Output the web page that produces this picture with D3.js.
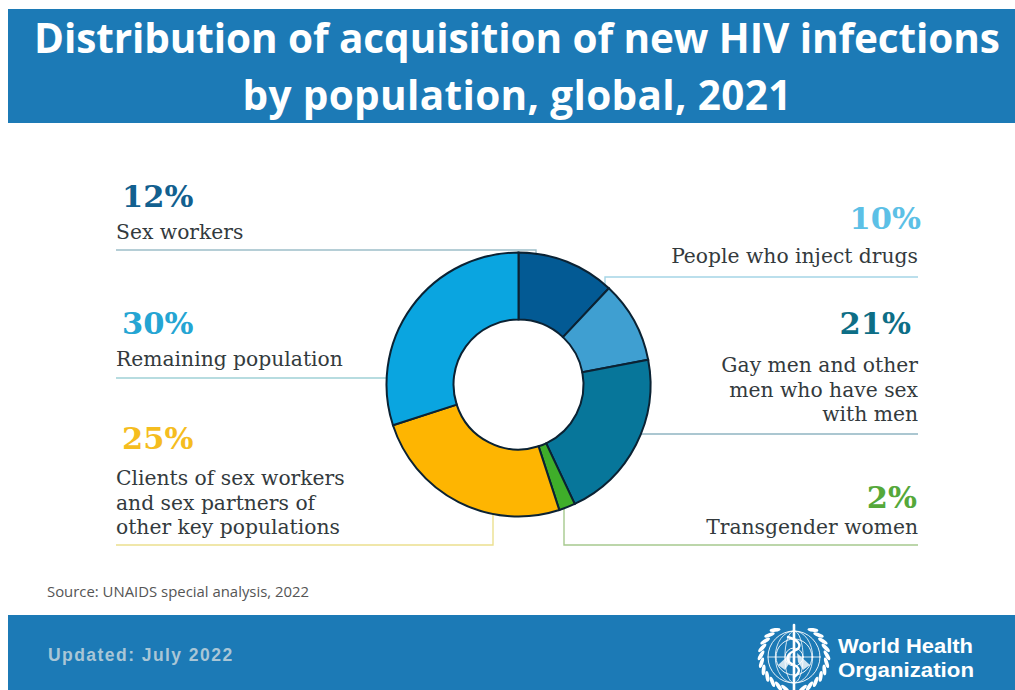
<!DOCTYPE html>
<html>
<head>
<meta charset="utf-8">
<script src="https://cdn.jsdelivr.net/npm/d3@7/dist/d3.min.js"></script>
<style>
html,body{margin:0;padding:0;background:#fff;overflow:hidden}
svg{display:block}
</style>
</head>
<body>
<svg id="chart" width="1015" height="690"></svg>
<script>
// Share of new HIV infections by population, clockwise from twelve o'clock
const populations = ["Sex workers","People who inject drugs","Gay men and other men who have sex with men","Transgender women","Clients of sex workers and sex partners of other key populations","Remaining population"];
const shares = [12, 10, 21, 2, 25, 30];
const sliceColours = ["#035a94","#3f9fd1","#07769a","#3fae2a","#feb501","#0aa5e0"];
const valueColours = ["#12608f","#5cc0e6","#0d6e86","#55a83a","#f5bd1f","#25a5d3"];
const leaderColours = ["#9dbfc9","#a5d5e6","#8fb4c2","#a6c98e","#ece08f","#9fd0d6"];
const labelLines = [["Sex workers"],["People who inject drugs"],["Gay men and other","men who have sex","with men"],["Transgender women"],["Clients of sex workers","and sex partners of","other key populations"],["Remaining population"]];

const titleLines = ["Distribution of acquisition of new HIV infections","by population, global, 2021"];
const sourceNote = "Source: UNAIDS special analysis, 2022";
const updatedNote = "Updated: July 2022";
const orgName = ["World Health","Organization"];

// Text block placement and leader routing for each slice
const placement = [
  {side:"left",  x:116, valueX:122, valueY:207, labelY:239, gap:0,  leader:[[116,250],[536,250],[536,256]]},
  {side:"right", x:918, valueX:921, valueY:229, labelY:263, gap:0,  leader:[[918,277],[605,277],[605,291]]},
  {side:"right", x:918, valueX:911, valueY:334, labelY:372, gap:24.5, leader:[[918,434],[640,434]]},
  {side:"right", x:918, valueX:917, valueY:508, labelY:534, gap:0,  leader:[[918,545],[564,545],[564,508]]},
  {side:"left",  x:116, valueX:122, valueY:449, labelY:485, gap:24.5, leader:[[116,545],[493,545],[493,512]]},
  {side:"left",  x:116, valueX:122, valueY:334, labelY:366, gap:0,  leader:[[116,378],[387,378]]}
];

const svg = d3.select("#chart");
const bandBlue = "#1c7ab6";

// Header and footer bands
svg.append("rect").attr("x",8).attr("y",9).attr("width",1007).attr("height",114).attr("fill",bandBlue);
svg.append("rect").attr("x",8).attr("y",615).attr("width",1007).attr("height",75).attr("fill",bandBlue);

svg.append("g").selectAll("text").data(titleLines).join("text")
  .attr("x",517).attr("y",(d,i)=>53+i*57)
  .attr("text-anchor","middle")
  .attr("font-family","'Open Sans',sans-serif").attr("font-weight",700)
  .attr("font-size",40.5).attr("fill","#fff")
  .attr("textLength",(d,i)=>i?549:966).attr("lengthAdjust","spacing")
  .text(d=>d);

// Leaders sit underneath the ring
const leaderPath = d3.line();
svg.append("g").attr("fill","none").selectAll("path").data(placement).join("path")
  .attr("d",d=>leaderPath(d.leader))
  .attr("stroke",(d,i)=>leaderColours[i]).attr("stroke-width",1.4);

// Donut
const pie = d3.pie().sort(null).value(d=>d);
const arc = d3.arc().innerRadius(65).outerRadius(132);
svg.append("g").attr("transform","translate(518.5,384.5)")
  .selectAll("path").data(pie(shares)).join("path")
  .attr("d",arc)
  .attr("fill",(d,i)=>sliceColours[i])
  .attr("stroke","#0b2233").attr("stroke-width",2)
  .append("title").text((d,i)=>populations[i]);

// Value and population labels
const labels = svg.append("g").selectAll("g").data(placement).join("g");
labels.append("text")
  .attr("x",d=>d.valueX).attr("y",d=>d.valueY)
  .attr("text-anchor",d=>d.side==="left"?"start":"end")
  .attr("font-family","'DejaVu Serif',serif").attr("font-weight",700).attr("font-size",30.5)
  .attr("fill",(d,i)=>valueColours[i])
  .text((d,i)=>shares[i]+"%");
labels.each(function(d,i){
  d3.select(this).selectAll("text.name").data(labelLines[i]).join("text")
    .attr("class","name")
    .attr("x",d.x).attr("y",(l,j)=>d.labelY+j*d.gap)
    .attr("text-anchor",d.side==="left"?"start":"end")
    .attr("font-family","'DejaVu Serif',serif").attr("font-size",20.3)
    .attr("fill","#333a3d")
    .text(l=>l);
});

svg.append("text").attr("x",47).attr("y",597)
  .attr("font-family","'Open Sans',sans-serif").attr("font-size",14.9).attr("fill","#555")
  .text(sourceNote);

svg.append("text").attr("x",48).attr("y",661)
  .attr("font-family","'Liberation Sans',sans-serif").attr("font-weight",700)
  .attr("font-size",17.5).attr("letter-spacing",1.45).attr("fill","#a9c6d6")
  .text(updatedNote);

// Emblem: globe grid, staff and serpent, laurel branches
const emblem = svg.append("g").attr("transform","translate(794,657)")
  .attr("fill","none").attr("stroke","#fff").attr("stroke-linecap","round");
[9,18,26].forEach(r=>emblem.append("circle").attr("r",r).attr("stroke-width",.9));
[0.35,0.72].forEach(k=>emblem.append("ellipse").attr("rx",26*k).attr("ry",26).attr("stroke-width",.8));
emblem.append("line").attr("x1",-26).attr("x2",26).attr("stroke-width",.8);
[-1,1].forEach(s=>{
  emblem.append("path").attr("d",`M${s*-3},-4 L${s*-16},8 L${s*-9},13 L${s*-4},5Z`)
    .attr("fill","#fff").attr("stroke","none").attr("opacity",.8);
  // Laurel leaves, stepping up each side from the base of the globe
  d3.range(-55,80,13).forEach(deg=>{
    const a = deg*Math.PI/180, r = 33;
    const px = s*r*Math.cos(a), py = r*Math.sin(a);
    emblem.append("ellipse").attr("rx",5.5).attr("ry",1.9)
      .attr("transform",`translate(${px},${py}) rotate(${s*(deg+90-28)})`)
      .attr("fill","#fff").attr("stroke","none");
  });
});
emblem.append("line").attr("y1",-32).attr("y2",33).attr("stroke-width",2.6);
emblem.append("path").attr("d","M-6,-20 C8,-16 8,-9 0,-6 C-9,-2 -8,5 0,8 C7,11 6,16 0,20")
  .attr("stroke-width",2.4);

svg.append("g").selectAll("text").data(orgName).join("text")
  .attr("x",838).attr("y",(d,i)=>653+i*24)
  .attr("font-family","'Liberation Sans',sans-serif").attr("font-weight",700)
  .attr("font-size",20.8).attr("fill","#fff").attr("textLength",(d,i)=>i?136:135).attr("lengthAdjust","spacingAndGlyphs")
  .text(d=>d);
</script>
</body>
</html>
